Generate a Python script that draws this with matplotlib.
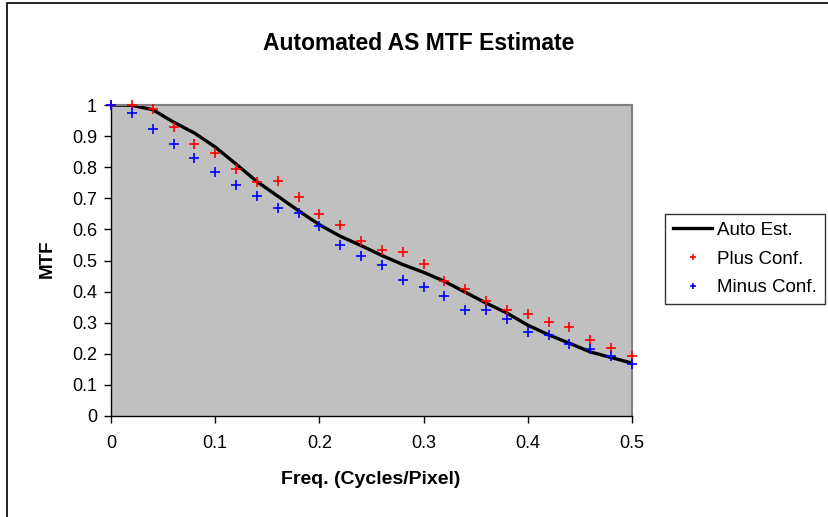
import matplotlib
matplotlib.use("Agg")
import matplotlib.pyplot as plt
from matplotlib.patches import Rectangle
from matplotlib import font_manager

freq = [0.00, 0.02, 0.04, 0.06, 0.08, 0.10, 0.12, 0.14, 0.16, 0.18, 0.20, 0.22, 0.24,
        0.26, 0.28, 0.30, 0.32, 0.34, 0.36, 0.38, 0.40, 0.42, 0.44, 0.46, 0.48, 0.50]
auto_est = [1.000, 0.999, 0.985, 0.945, 0.910, 0.865, 0.810, 0.754, 0.707, 0.660, 0.615,
            0.578, 0.548, 0.516, 0.487, 0.462, 0.433, 0.398, 0.363, 0.331, 0.292, 0.261,
            0.234, 0.206, 0.188, 0.170]
plus_conf = [1.000, 1.000, 0.987, 0.929, 0.875, 0.845, 0.794, 0.754, 0.755, 0.705, 0.648,
             0.614, 0.563, 0.533, 0.527, 0.489, 0.435, 0.408, 0.371, 0.342, 0.329, 0.301,
             0.285, 0.245, 0.218, 0.194]
minus_conf = [1.000, 0.975, 0.923, 0.874, 0.830, 0.783, 0.744, 0.706, 0.668, 0.653, 0.611,
              0.551, 0.516, 0.487, 0.438, 0.416, 0.387, 0.342, 0.342, 0.312, 0.270, 0.262,
              0.231, 0.216, 0.194, 0.167]
x_ticks = [0, 0.1, 0.2, 0.3, 0.4, 0.5]
x_tick_labels = ["0", "0.1", "0.2", "0.3", "0.4", "0.5"]
y_ticks = [0, 0.1, 0.2, 0.3, 0.4, 0.5, 0.6, 0.7, 0.8, 0.9, 1]
y_tick_labels = ["0", "0.1", "0.2", "0.3", "0.4", "0.5", "0.6", "0.7", "0.8", "0.9", "1"]

plt.rcParams['font.family'] = ['Liberation Sans', 'DejaVu Sans']

installed = {f.name for f in font_manager.fontManager.ttflist}
tick_family = ['Liberation Sans Narrow'] if 'Liberation Sans Narrow' in installed else ['Liberation Sans']

W, H = 829, 517
fig = plt.figure(figsize=(W / 100, H / 100), dpi=100)
fig.patch.set_facecolor('white')

# outer chart border
fig.add_artist(Rectangle((7 / W, -0.01), 1.02, 1 - 3 / H + 0.01, transform=fig.transFigure,
                         fill=False, edgecolor='black', linewidth=1.2))

left, right, top, bottom = 111, 632, 105, 416
ax = fig.add_axes([left / W, 1 - bottom / H, (right - left) / W, (bottom - top) / H])
ax.set_facecolor('#C0C0C0')

ax.plot(freq, auto_est, color='black', linewidth=2.4, label='Auto Est.', zorder=2)
ax.plot(freq, plus_conf, linestyle='none', marker='+', color='#FF0000', markersize=6.5,
        markeredgewidth=1.2, label='Plus Conf.', zorder=3, clip_on=False)
ax.plot(freq, minus_conf, linestyle='none', marker='+', color='#0000FF', markersize=6.5,
        markeredgewidth=1.2, label='Minus Conf.', zorder=3, clip_on=False)

ax.set_xlim(0, 0.5)
ax.set_ylim(0, 1)
ax.set_xticks(x_ticks)
ax.set_xticklabels(x_tick_labels, family=tick_family, fontsize=13)
ax.set_yticks(y_ticks)
ax.set_yticklabels(y_tick_labels, family=tick_family, fontsize=13)
ax.tick_params(direction='out', length=5, width=1, pad=5, colors='black')
ax.tick_params(axis='x', pad=9)

for s in ['top', 'right']:
    ax.spines[s].set_color('#808080')
    ax.spines[s].set_linewidth(1.5)
for s in ['left', 'bottom']:
    ax.spines[s].set_color('black')
    ax.spines[s].set_linewidth(1.0)

fig.text(419 / W, 1 - 44 / H, 'Automated AS MTF Estimate',
         ha='center', va='center', fontsize=16.5, fontweight='bold')
fig.text(371 / W, 1 - 479 / H, 'Freq. (Cycles/Pixel)',
         ha='center', va='center', fontsize=14, fontweight='bold')
fig.text(47 / W, 1 - 259 / H, 'MTF', ha='center', va='center', rotation=90,
         fontsize=13.5, fontweight='bold')

leg = ax.legend(loc='upper left', bbox_to_anchor=(665 / W, 1 - 214 / H),
                bbox_transform=fig.transFigure, frameon=True, fancybox=False,
                edgecolor='black', fontsize=13.5, handlelength=2.1, handletextpad=0.25,
                borderpad=0.42, labelspacing=0.62, borderaxespad=0, markerscale=0.75)
leg.get_frame().set_linewidth(1.0)

fig.savefig('out.png', dpi=100)
